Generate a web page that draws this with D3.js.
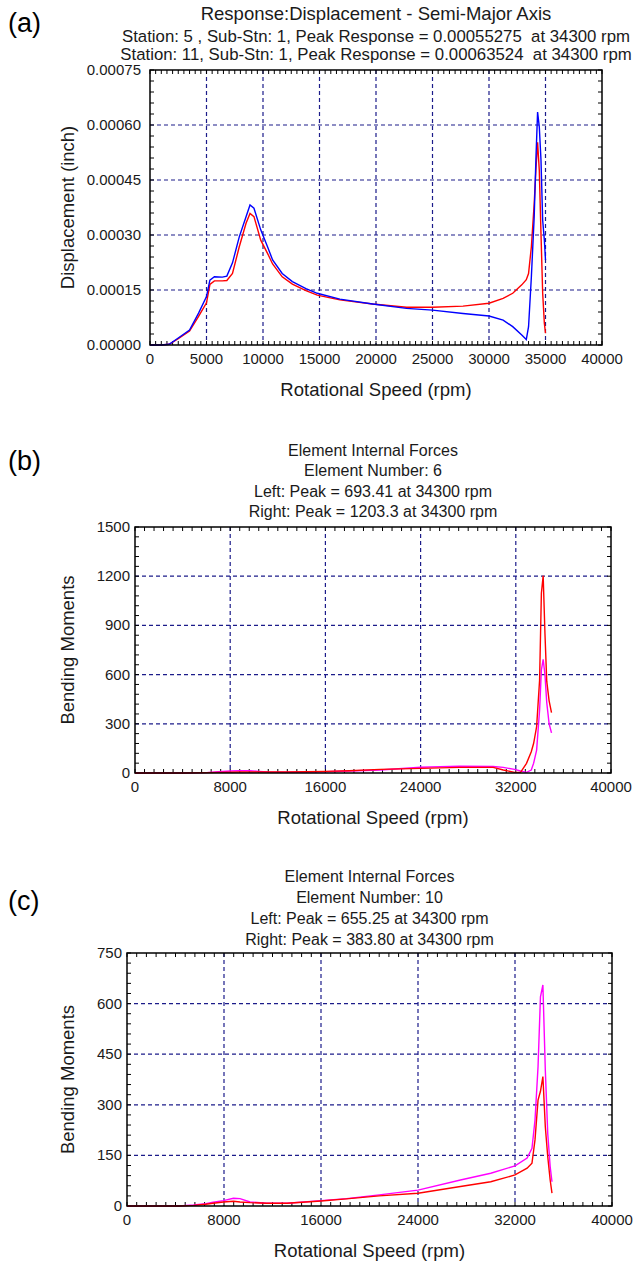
<!DOCTYPE html>
<html>
<head>
<meta charset="utf-8">
<script src="https://cdn.jsdelivr.net/npm/d3@7"></script>
<style>
  body { margin: 0; background: #fff; }
  svg { display: block; font-family: "Liberation Sans", Arial, sans-serif; }
  .tick-label { font-size: 15px; fill: #1a1a1a; }
  .axis-title { font-size: 18.5px; fill: #1a1a1a; }
  .title { font-size: 16px; fill: #1a1a1a; white-space: pre; }
  .panel-tag { font-size: 27px; fill: #000; }
</style>
</head>
<body>
<svg id="chart" width="644" height="1261"></svg>
<script>
// ---- panel (a): displacement, semi-major axis ----
const rpmA = [0, 1000, 1700, 2500, 3500, 4300, 5000, 5300, 5700, 6400, 6800, 7300, 7900, 8500, 8850, 9200,
  9800, 10400, 10850, 11700, 12600, 13800, 14800, 16800, 19700, 22700, 25000, 27700, 30000, 31250, 32100,
  32900, 33300, 33500, 33750, 34000, 34150, 34300, 34450, 34600, 34750, 34900, 35000]
const station11 = [0, 0, 0.000002, 0.000019, 0.000041, 0.000087, 0.000132, 0.000177, 0.000186, 0.000185,
  0.000188, 0.000224, 0.000295, 0.00035, 0.000382, 0.000373, 0.000314, 0.000268, 0.000232, 0.000195,
  0.000173, 0.000154, 0.000141, 0.000125, 0.000112, 0.0001, 0.000095, 0.000086, 0.000079, 0.000068,
  0.00005, 0.000027, 0.000015, 0.00005, 0.000186, 0.00035, 0.000505, 0.00063524, 0.000595, 0.000505,
  0.00034, 0.000286, 0.000232]
const station5 = [0, 0, 0.000002, 0.000017, 0.000038, 0.000078, 0.000115, 0.000165, 0.000175, 0.000175,
  0.000176, 0.000195, 0.000268, 0.000332, 0.000359, 0.00035, 0.000286, 0.00025, 0.000221, 0.000186,
  0.000166, 0.000148, 0.000136, 0.000123, 0.000112, 0.000103, 0.000103, 0.000106, 0.000114, 0.000127,
  0.000141, 0.000164, 0.000178, 0.000195, 0.000268, 0.000386, 0.000477, 0.00055275, 0.000477, 0.000305,
  0.000141, 0.000059, 0.000032]
const titleA = ["Response:Displacement - Semi-Major Axis",
  "Station: 5 , Sub-Stn: 1, Peak Response = 0.00055275  at 34300 rpm",
  "Station: 11, Sub-Stn: 1, Peak Response = 0.00063524  at 34300 rpm"]
const yTicksA = [0, 0.00015, 0.0003, 0.00045, 0.0006, 0.00075]
const xTicksA = [0, 5000, 10000, 15000, 20000, 25000, 30000, 35000, 40000]

// ---- panel (b): element 6 bending moments ----
const rpmB = [0, 2000, 4000, 6000, 7000, 8000, 8800, 9600, 10400, 11200, 12800, 14400, 16000, 18000, 20600,
  24000, 27300, 30100, 30950, 31900, 32400, 32900, 33300, 33500, 33750, 34000, 34150, 34300, 34450, 34600,
  34800, 35000]
const rightB = [0, 0, 0, 2, 4, 5, 6, 6, 6, 6, 6, 8, 10, 14, 22, 28, 34, 34, 18, 4, 4, 59, 130, 181, 283, 567,
  1096, 1203.3, 850, 560, 440, 368]
const leftB = [0, 0, 0, 2, 8, 12, 14, 14, 10, 6, 5, 6, 8, 12, 18, 35, 42, 40, 34, 22, 12, 4, 18, 60, 140, 384,
  628, 693.41, 600, 430, 300, 245]
const titleB = ["Element Internal Forces", "Element Number: 6",
  "Left: Peak = 693.41 at 34300 rpm", "Right: Peak = 1203.3 at 34300 rpm"]
const yTicksB = [0, 300, 600, 900, 1200, 1500]

// ---- panel (c): element 10 bending moments ----
const rpmC = [0, 2000, 4300, 5500, 6500, 7100, 7950, 8780, 9320, 10150, 11500, 13200, 16000, 18100, 20800,
  24000, 27500, 30000, 32000, 33000, 33400, 33650, 33900, 34100, 34300, 34500, 34700, 34900, 35050]
const leftC = [0, 0, 0, 3, 7, 11, 16, 23, 22, 12, 8, 8, 16, 22, 33, 47, 77, 97, 119, 142, 171, 255, 413, 620,
  655.25, 403, 215, 117, 72]
const rightC = [0, 0, 0, 2, 5, 8, 12, 14, 12, 10, 8, 8, 15, 21, 30, 38, 58, 72, 92, 112, 127, 196, 314, 340,
  383.8, 235, 146, 77, 38]
const titleC = ["Element Internal Forces", "Element Number: 10",
  "Left: Peak = 655.25 at 34300 rpm", "Right: Peak = 383.80 at 34300 rpm"]
const yTicksC = [0, 150, 300, 450, 600, 750]
const xTicksBC = [0, 8000, 16000, 24000, 32000, 40000]

const svg = d3.select("#chart")
const gridColor = "#1c1c8a"

const drawPanel = (p) => {
  const x = d3.scaleLinear().domain([0, 40000]).range([p.left, p.right])
  const y = d3.scaleLinear().domain([0, p.yMax]).range([p.bottom, p.top])
  const g = svg.append("g")

  svg.append("text").attr("class", "panel-tag")
    .attr("x", 8).attr("y", p.tagY).text(p.tag)

  const cx = (p.left + p.right) / 2
  p.title.forEach((t, i) => {
    g.append("text").attr("class", "title")
      .attr("x", cx).attr("y", p.titleY[i])
      .attr("text-anchor", "middle")
      .style("font-size", p.titleSizes ? p.titleSizes[i] : null)
      .text(t)
  })

  // dashed grid at the major ticks
  g.selectAll(".vgrid").data(p.xTicks.slice(1, -1)).enter()
    .append("line")
      .attr("x1", d => x(d)).attr("x2", d => x(d))
      .attr("y1", p.top).attr("y2", p.bottom)
      .attr("stroke", gridColor).attr("stroke-width", 1.2)
      .attr("stroke-dasharray", "4,3")
  g.selectAll(".hgrid").data(p.yTicks.slice(1, -1)).enter()
    .append("line")
      .attr("y1", d => y(d)).attr("y2", d => y(d))
      .attr("x1", p.left).attr("x2", p.right)
      .attr("stroke", gridColor).attr("stroke-width", 1.2)
      .attr("stroke-dasharray", "4,3")

  // minor ticks on all four sides, pointing inwards
  const xMinor = d3.range(0, 40000 + 1, p.xMinor)
  const yMinor = d3.range(0, p.yMax * 1.0001, p.yMinor)
  const tl = 4
  xMinor.forEach(v => {
    g.append("line").attr("x1", x(v)).attr("x2", x(v))
      .attr("y1", p.bottom).attr("y2", p.bottom - tl).attr("stroke", "#000")
    g.append("line").attr("x1", x(v)).attr("x2", x(v))
      .attr("y1", p.top).attr("y2", p.top + tl).attr("stroke", "#000")
  })
  yMinor.forEach(v => {
    g.append("line").attr("y1", y(v)).attr("y2", y(v))
      .attr("x1", p.left).attr("x2", p.left + tl).attr("stroke", "#000")
    g.append("line").attr("y1", y(v)).attr("y2", y(v))
      .attr("x1", p.right).attr("x2", p.right - tl).attr("stroke", "#000")
  })

  // curves
  p.series.forEach(s => {
    const pts = p.rpm.map((r, i) => [r, s.values[i]])
    g.append("path")
      .attr("d", d3.line().x(d => x(d[0])).y(d => y(d[1]))(pts))
      .attr("fill", "none")
      .attr("stroke", s.color)
      .attr("stroke-width", 1.4)
  })

  // frame
  g.append("rect")
    .attr("x", p.left).attr("y", p.top)
    .attr("width", p.right - p.left).attr("height", p.bottom - p.top)
    .attr("fill", "none").attr("stroke", "#000").attr("stroke-width", 1.5)

  // tick labels
  g.selectAll(".xl").data(p.xTicks).enter()
    .append("text").attr("class", "tick-label")
      .attr("x", d => x(d)).attr("y", p.bottom + 19)
      .attr("text-anchor", "middle")
      .text(d => d)
  g.selectAll(".yl").data(p.yTicks).enter()
    .append("text").attr("class", "tick-label")
      .attr("x", p.left - p.yLabelGap).attr("y", d => y(d) + 5)
      .attr("text-anchor", "end")
      .text(p.yFormat)

  g.append("text").attr("class", "axis-title")
    .attr("x", cx).attr("y", p.bottom + 51)
    .attr("text-anchor", "middle")
    .text("Rotational Speed (rpm)")
  g.append("text").attr("class", "axis-title")
    .attr("transform", `translate(74, ${(p.top + p.bottom) / 2})rotate(-90)`)
    .attr("text-anchor", "middle")
    .text(p.yLabel)
}

drawPanel({
  tag: "(a)", tagY: 32, title: titleA, titleY: [20, 42, 60], titleSizes: ["18.5px", "16.8px", "16.8px"],
  left: 150, right: 602, top: 70, bottom: 345, yLabelGap: 9,
  yMax: 0.00075, yTicks: yTicksA, yMinor: 0.00003, xTicks: xTicksA, xMinor: 500,
  yFormat: d => d.toFixed(5), yLabel: "Displacement (inch)",
  rpm: rpmA,
  series: [{ values: station5, color: "#ff0000" }, { values: station11, color: "#0000ff" }]
})

drawPanel({
  tag: "(b)", tagY: 470, title: titleB, titleY: [456, 476, 497, 517],
  left: 135, right: 611, top: 527, bottom: 773, yLabelGap: 5,
  yMax: 1500, yTicks: yTicksB, yMinor: 60, xTicks: xTicksBC, xMinor: 800,
  yFormat: d => d, yLabel: "Bending Moments",
  rpm: rpmB,
  series: [{ values: leftB, color: "#ff00ff" }, { values: rightB, color: "#ff0000" }]
})

drawPanel({
  tag: "(c)", tagY: 910, title: titleC, titleY: [882, 903, 924, 945],
  left: 127, right: 612, top: 953, bottom: 1206, yLabelGap: 5,
  yMax: 750, yTicks: yTicksC, yMinor: 30, xTicks: xTicksBC, xMinor: 800,
  yFormat: d => d, yLabel: "Bending Moments",
  rpm: rpmC,
  series: [{ values: leftC, color: "#ff00ff" }, { values: rightC, color: "#ff0000" }]
})
</script>
</body>
</html>
